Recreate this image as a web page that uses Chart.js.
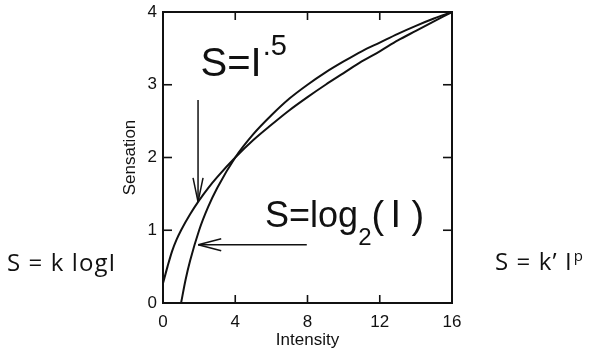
<!DOCTYPE html>
<html>
<head>
<meta charset="utf-8">
<script src="https://cdn.jsdelivr.net/npm/chart.js@4"></script>
<style>
  body { margin: 0; background: #fff; }
  #wrap { position: relative; width: 590px; height: 351px; }
  canvas { position: absolute; left: 0; top: 0; }
  .side { position: absolute; font-family: "Open Sans", sans-serif; font-size: 24px; color: #111; white-space: nowrap; line-height: 1; letter-spacing: 1.1px; }
  .side sup { font-size: 15px; vertical-align: 0; position: relative; top: -9px; margin-left: 1px; letter-spacing: 0; }
</style>
</head>
<body>
<div id="wrap">
  <canvas id="chart" width="590" height="351"></canvas>
  <div class="side" style="left:7px; top:250px;">S = k logI</div>
  <div class="side" style="left:495px; top:249px;">S = k’ I<sup>p</sup></div>
</div>
<script>
// power law S = I^.5
const intensity = [0, 0.25, 0.5, 0.75, 1, 1.5, 2, 2.5, 3, 4, 5, 6, 7, 8, 9, 10, 11, 12, 13, 14, 15, 16]
const powerSensation = [0.27, 0.5, 0.71, 0.87, 1.0, 1.22, 1.41, 1.58, 1.73, 2.0, 2.24, 2.45, 2.65, 2.83, 3.0, 3.16, 3.32, 3.46, 3.61, 3.74, 3.87, 4.0]

// log law S = log2(I), starts at I = 1
const logIntensity = [1, 1.25, 1.5, 2, 2.5, 3, 4, 5, 6, 7, 8, 9, 10, 11, 12, 13, 14, 15, 16]
const logSensation = [0, 0.32, 0.58, 1.0, 1.32, 1.58, 2.0, 2.32, 2.58, 2.81, 3.0, 3.17, 3.32, 3.46, 3.58, 3.7, 3.81, 3.91, 4.0]

const xTicks = [0, 4, 8, 12, 16]
const yTicks = [0, 1, 2, 3, 4]

const ink = '#111'
const font = '"Liberation Sans", Arial, sans-serif'

// arrows in data units: from -> to
const arrows = [
    { from: [1.94, 2.79], to: [1.94, 1.39], head: 24, half: 5 },
    { from: [7.96, 0.8], to: [1.95, 0.8], head: 23, half: 6 },
]

function line(ctx, x1, y1, x2, y2) {
    ctx.beginPath()
    ctx.moveTo(x1, y1)
    ctx.lineTo(x2, y2)
    ctx.stroke()
}

const frameAndNotes = {
    id: 'frameAndNotes',
    afterDraw(chart) {
        const { ctx, chartArea: a, scales: { x, y } } = chart
        ctx.save()
        ctx.strokeStyle = ink
        ctx.lineWidth = 2
        ctx.strokeRect(a.left, a.top, a.right - a.left, a.bottom - a.top)

        // tick marks point inward on all four sides
        ctx.lineWidth = 1.6
        x.ticks.forEach(t => {
            const px = x.getPixelForValue(t.value)
            line(ctx, px, a.bottom, px, a.bottom - 8)
            line(ctx, px, a.top, px, a.top + 8)
        })
        y.ticks.forEach(t => {
            const py = y.getPixelForValue(t.value)
            line(ctx, a.left, py, a.left + 9, py)
            line(ctx, a.right, py, a.right - 9, py)
        })

        // arrows
        ctx.lineWidth = 1.5
        arrows.forEach(ar => {
            const x1 = x.getPixelForValue(ar.from[0]), y1 = y.getPixelForValue(ar.from[1])
            const x2 = x.getPixelForValue(ar.to[0]), y2 = y.getPixelForValue(ar.to[1])
            line(ctx, x1, y1, x2, y2)
            const ang = Math.atan2(y2 - y1, x2 - x1)
            const bx = x2 - ar.head * Math.cos(ang), by = y2 - ar.head * Math.sin(ang)
            const nx = -Math.sin(ang) * ar.half, ny = Math.cos(ang) * ar.half
            line(ctx, bx + nx, by + ny, x2, y2)
            line(ctx, bx - nx, by - ny, x2, y2)
        })

        // curve labels
        ctx.fillStyle = ink
        ctx.textBaseline = 'alphabetic'
        ctx.textAlign = 'left'
        let px = x.getPixelForValue(2.08), py = y.getPixelForValue(3.12)
        ctx.font = '40px ' + font
        ctx.fillText('S=I', px, py)
        px += ctx.measureText('S=I').width + 1
        ctx.font = '29px ' + font
        ctx.fillText('.5', px, py - 21)

        px = x.getPixelForValue(5.65)
        py = y.getPixelForValue(1.05)
        ctx.font = '36px ' + font
        ctx.fillText('S=log', px, py)
        px += ctx.measureText('S=log').width
        ctx.font = '24px ' + font
        ctx.fillText('2', px, py + 18)
        px += ctx.measureText('2').width
        // the brackets sit loosely around the I
        ctx.font = '38px ' + font
        ctx.fillText('(', px, py + 1)
        ctx.fillText('I', px + 19, py)
        ctx.fillText(')', px + 40, py + 1)
        ctx.restore()
    }
}

new Chart(document.getElementById('chart'), {
    type: 'line',
    data: {
        datasets: [
            {
                label: 'S=I^.5',
                data: intensity.map((v, i) => ({ x: v, y: powerSensation[i] })),
                borderColor: ink,
                borderWidth: 2,
                pointRadius: 0,
                cubicInterpolationMode: 'monotone',
            },
            {
                label: 'S=log2(I)',
                data: logIntensity.map((v, i) => ({ x: v, y: logSensation[i] })),
                borderColor: ink,
                borderWidth: 2,
                pointRadius: 0,
                cubicInterpolationMode: 'monotone',
            },
        ],
    },
    options: {
        responsive: false,
        animation: false,
        devicePixelRatio: 1,
        layout: { padding: { top: 12, right: 138, bottom: 0, left: 0 } },
        plugins: { legend: { display: false }, tooltip: { enabled: false } },
        scales: {
            x: {
                type: 'linear',
                min: 0,
                max: 16,
                afterBuildTicks: s => { s.ticks = xTicks.map(v => ({ value: v })) },
                afterFit: s => { s.height = 48; s.paddingLeft = 0; s.paddingRight = 0 },
                grid: { display: false, drawTicks: false },
                border: { display: false },
                ticks: { color: ink, padding: 9, maxRotation: 0, font: { family: font, size: 17 } },
                title: { display: true, text: 'Intensity', color: ink, padding: 0, font: { family: font, size: 17 } },
            },
            y: {
                type: 'linear',
                min: 0,
                max: 4,
                afterBuildTicks: s => { s.ticks = yTicks.map(v => ({ value: v })) },
                afterFit: s => { s.width = 163; s.paddingTop = 0; s.paddingBottom = 0 },
                grid: { display: false, drawTicks: false },
                border: { display: false },
                ticks: { color: ink, padding: 6, font: { family: font, size: 17 } },
                title: { display: true, text: 'Sensation', color: ink, padding: { top: 120, bottom: 0 }, font: { family: font, size: 17 } },
            },
        },
    },
    plugins: [frameAndNotes],
})
</script>
</body>
</html>
